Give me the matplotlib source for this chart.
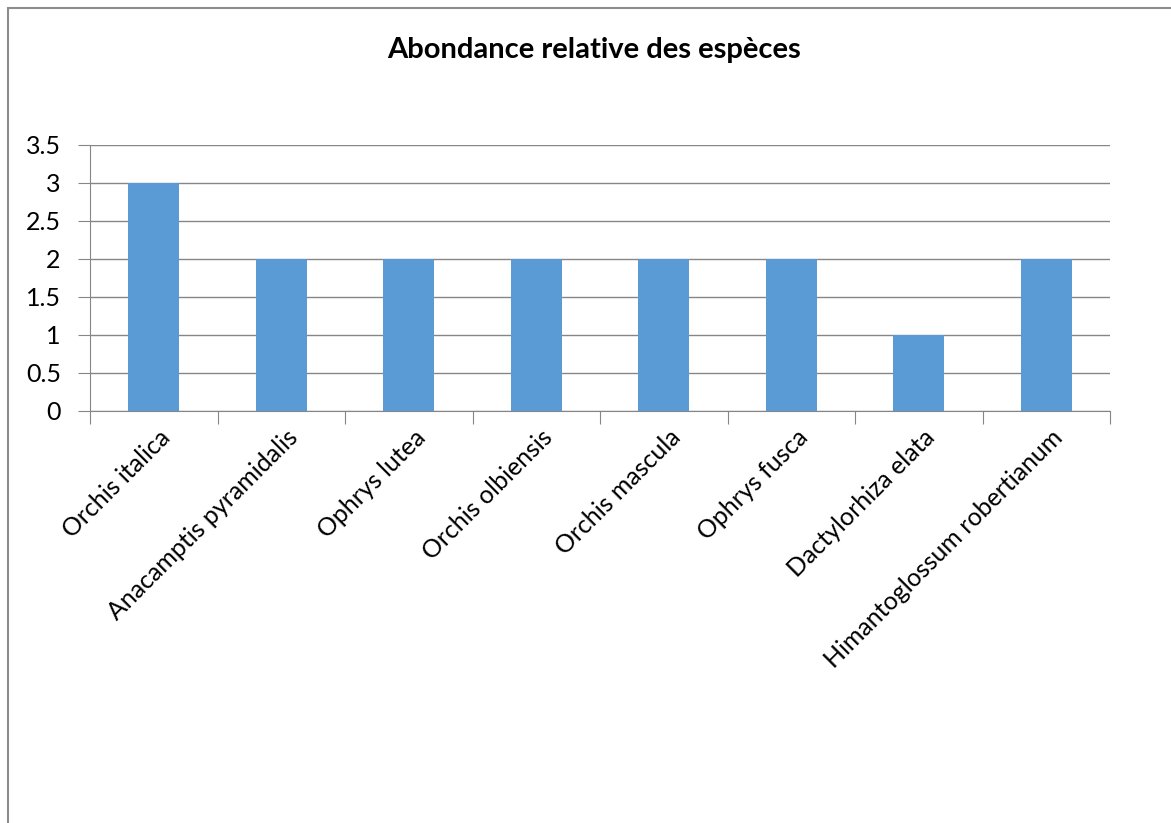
import matplotlib
matplotlib.use("Agg")
import matplotlib.pyplot as plt
from matplotlib.patches import Rectangle
from matplotlib.ticker import FixedLocator

categories = ["Orchis italica", "Anacamptis pyramidalis", "Ophrys lutea",
              "Orchis olbiensis", "Orchis mascula", "Ophrys fusca",
              "Dactylorhiza elata", "Himantoglossum robertianum"]
values = [3, 2, 2, 2, 2, 2, 1, 2]
yticks = [0, 0.5, 1, 1.5, 2, 2.5, 3, 3.5]
ytick_labels = ["0", "0.5", "1", "1.5", "2", "2.5", "3", "3.5"]
title = "Abondance relative des espèces"

plt.rcParams['font.family'] = ['Lato', 'DejaVu Sans']

W, H = 1171, 823
fig = plt.figure(figsize=(W/100, H/100), dpi=100)
fig.patches.append(Rectangle((8/W, -0.2), 1.2, 1.2 - 8/H, transform=fig.transFigure,
                             fill=False, edgecolor='#8c8c8c', linewidth=1.5))

ax = fig.add_axes([90/W, 1 - 411/H, 1020/W, 266/H])
grid_c = '#868686'
x = list(range(len(categories)))
ax.bar(x, values, width=0.4, color='#5B9BD5', zorder=3)
ax.set_xlim(-0.5, len(categories) - 0.5)
ax.set_ylim(0, 3.5)
ax.set_yticks(yticks)
ax.set_yticklabels(ytick_labels, fontsize=18)
ax.yaxis.grid(True, color=grid_c, linewidth=1, zorder=0)
for s in ['top', 'right']:
    ax.spines[s].set_visible(False)
ax.spines['left'].set_color(grid_c)
ax.spines['bottom'].set_color(grid_c)
ax.tick_params(axis='y', length=9, color=grid_c, pad=12)

ax.xaxis.set_major_locator(FixedLocator([i + 0.5 for i in range(-1, len(categories))]))
ax.xaxis.set_ticklabels([])
ax.tick_params(axis='x', length=9, color=grid_c)
for i, c in enumerate(categories):
    ax.text(i + 0.1, -0.3, c, rotation=45, rotation_mode='anchor',
            ha='right', va='center', fontsize=18, transform=ax.transData)

fig.text(594/W, 1 - 50/H, title, ha='center', va='center',
         fontsize=21, fontweight='bold')

fig.savefig("out.png", dpi=100)
